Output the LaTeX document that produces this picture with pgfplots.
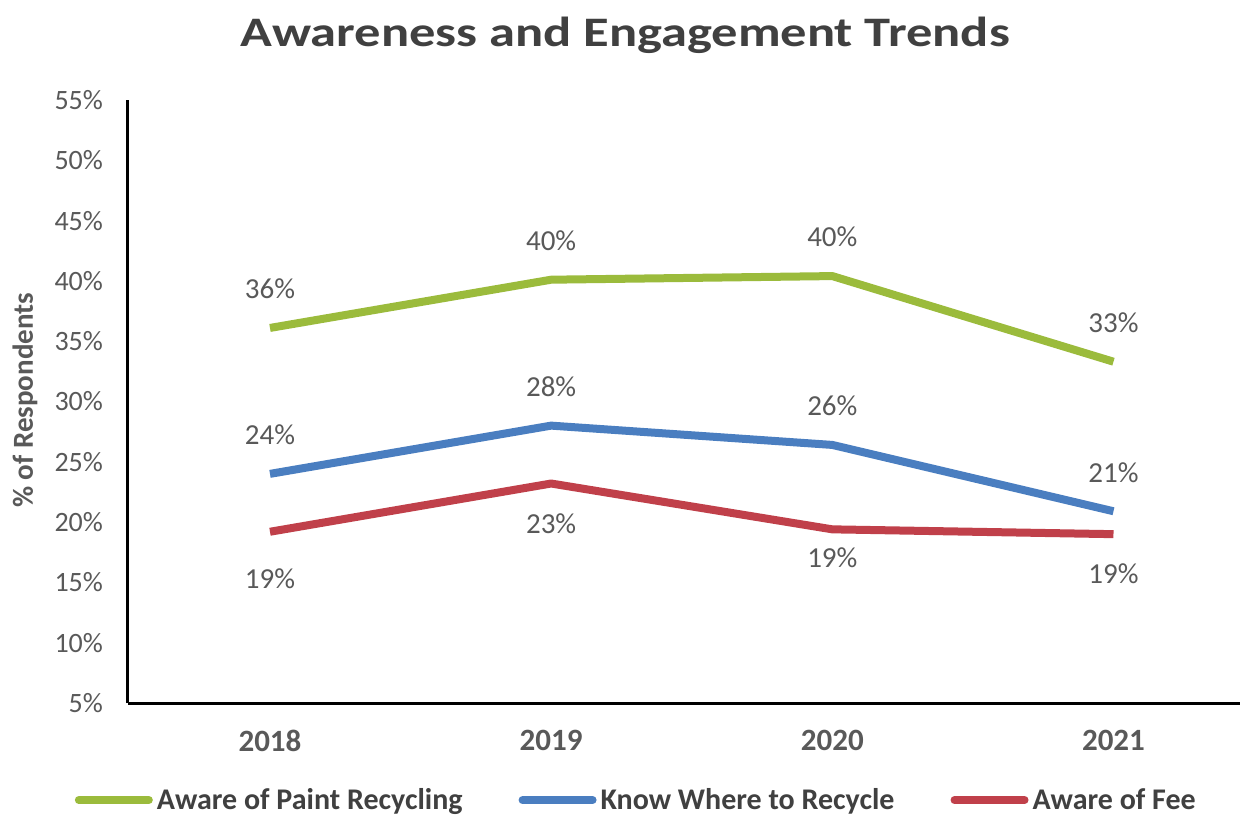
\documentclass[border=0pt]{standalone}
\usepackage{pgfplots}
\pgfplotsset{compat=1.18}
\usepackage{fontspec}
\setmainfont{Carlito}
\newfontfamily\titlefont{Carlito}[FakeStretch=1.25]
\definecolor{cgreen}{HTML}{9BBB3C}
\definecolor{cblue}{HTML}{4A7EC0}
\definecolor{cred}{HTML}{C0404A}
\definecolor{ctext}{HTML}{595959}
\definecolor{ctitle}{HTML}{404040}
\begin{document}
\begin{tikzpicture}
\begin{axis}[
  scale only axis, width=556pt, height=301.5pt,
  xmin=-0.505, xmax=3.45, ymin=5, ymax=55,
  axis x line=bottom, axis y line=left,
  axis line style={line width=1.5pt, black, -},
  xtick={0,1,2,3}, xticklabels={2018,2019,2020,2021},
  ytick={5,10,15,20,25,30,35,40,45,50,55},
  yticklabels={5\%,10\%,15\%,20\%,25\%,30\%,35\%,40\%,45\%,50\%,55\%},
  major tick length=0pt,
  xticklabel style={font=\fontsize{15.5}{18}\selectfont\bfseries, text=ctext, yshift=-10pt},
  yticklabel style={font=\fontsize{14}{16}\selectfont, text=ctext, xshift=-9pt},
  title={Awareness and Engagement Trends},
  title style={at={(0.447,1.087)}, anchor=center, font=\titlefont\fontsize{21}{25}\selectfont\bfseries, text=ctitle},
  clip=false,
  point meta=explicit symbolic,
  nodes near coords,
  every node near coord/.append style={font=\fontsize{14.5}{17}\selectfont, text=ctext, anchor=center},
  legend style={at={(0.458,-0.161)}, anchor=center, draw=none, fill=none,
    legend columns=3, font=\fontsize{15}{18}\selectfont\bfseries, text=ctitle,
    /tikz/every even column/.append style={column sep=26pt}},
  legend image code/.code={\draw[line width=4pt, line cap=round] (0pt,0pt) -- (35pt,0pt);},
]
\addplot[cgreen, line width=4pt, line join=round, every node near coord/.append style={yshift=19.5pt}] coordinates {
  (0,36.1) [36\%] (1,40.1) [40\%] (2,40.4) [40\%] (3,33.3) [33\%]};
\addlegendentry{Aware of Paint Recycling}
\addplot[cblue, line width=4pt, line join=round, every node near coord/.append style={yshift=19.5pt}] coordinates {
  (0,24.0) [24\%] (1,28.0) [28\%] (2,26.4) [26\%] (3,20.9) [21\%]};
\addlegendentry{Know Where to Recycle}
\addplot[cred, line width=4pt, line join=round, every node near coord/.append style={yshift=-20pt},
  coordinate style/.condition={x==0}{yshift=-3.5pt},
  coordinate style/.condition={x==2}{yshift=6pt}] coordinates {
  (0,19.2) [19\%] (1,23.2) [23\%] (2,19.4) [19\%] (3,19.0) [19\%]};
\addlegendentry{Aware of Fee}
\coordinate (O) at (rel axis cs:0,0);
\node[rotate=90, font=\fontsize{14.5}{17}\selectfont\bfseries, text=ctext] at ([xshift=-51.5pt]rel axis cs:0,0.502) {\% of Respondents};
\end{axis}
\pgfresetboundingbox
\path[use as bounding box] ([shift={(-64pt,-59pt)}]O) rectangle ([shift={(556pt,351.5pt)}]O);
\end{tikzpicture}
\end{document}
